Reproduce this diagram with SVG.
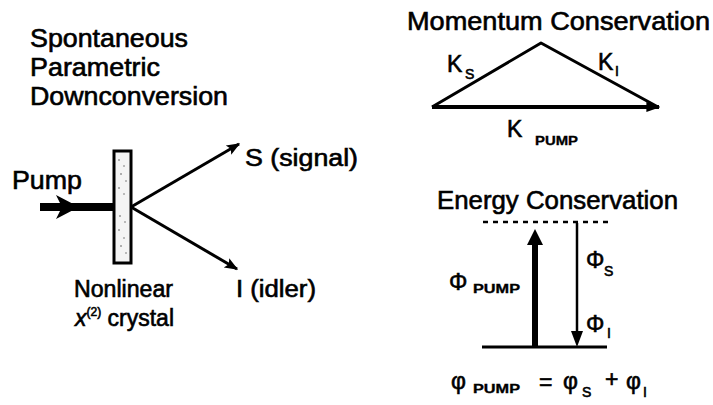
<svg xmlns="http://www.w3.org/2000/svg" width="713" height="405" viewBox="0 0 713 405">
<defs>
<style>
text{font-family:"Liberation Sans",Arial,sans-serif;fill:#000;stroke:#000;stroke-width:0.6}
.t{font-size:25px}
.m{font-size:23px}
.sub{font-size:14px}
.sc{font-size:12px;font-weight:bold;stroke-width:0.3}
.ln{stroke:#000;fill:none}
</style>
<marker id="ah" viewBox="0 0 10 10" refX="9" refY="5" markerWidth="4.5" markerHeight="4.5" orient="auto" markerUnits="strokeWidth">
<path d="M0,1 L10,5 L0,9 L2,5 Z" fill="#000"/>
</marker>
<marker id="ah2" viewBox="0 0 10 10" refX="9" refY="5" markerWidth="3.5" markerHeight="3.5" orient="auto" markerUnits="strokeWidth">
<path d="M0,1.5 L10,5 L0,8.5 Z" fill="#000"/>
</marker>
</defs>
<rect width="713" height="405" fill="#fff"/>

<g id="title">
<text class="t" x="30" y="47" textLength="158" lengthAdjust="spacingAndGlyphs">Spontaneous</text>
<text class="t" x="30" y="76" textLength="130" lengthAdjust="spacingAndGlyphs">Parametric</text>
<text class="t" x="30" y="105" textLength="198" lengthAdjust="spacingAndGlyphs">Downconversion</text>
</g>

<g id="pump">
<text class="t" x="12" y="189" textLength="70" lengthAdjust="spacingAndGlyphs">Pump</text>
<rect x="40" y="203" width="74" height="8" fill="#000"/>
<path d="M56,195 L79,207 L56,219 L62,207 Z" fill="#000"/>
</g>

<g id="crystal">
<rect x="114" y="151" width="17" height="112" fill="#f4f4f4" stroke="#000" stroke-width="3"/>
<g fill="#555">
<circle cx="119" cy="160" r="0.8"/><circle cx="124" cy="166" r="0.7"/><circle cx="121" cy="174" r="0.8"/>
<circle cx="126" cy="181" r="0.7"/><circle cx="119" cy="188" r="0.8"/><circle cx="124" cy="194" r="0.7"/>
<circle cx="120" cy="216" r="0.8"/><circle cx="125" cy="222" r="0.7"/><circle cx="119" cy="230" r="0.8"/>
<circle cx="124" cy="238" r="0.7"/><circle cx="121" cy="246" r="0.8"/><circle cx="126" cy="253" r="0.7"/>
</g>
<text class="m" x="74" y="297" textLength="99" lengthAdjust="spacingAndGlyphs">Nonlinear</text>
<text class="m" x="75" y="326"><tspan font-style="italic">x</tspan><tspan font-size="12" dy="-10">(2)</tspan><tspan dy="10"> crystal</tspan></text>
</g>

<g id="connectors">
<line class="ln" x1="131" y1="207" x2="239" y2="144" stroke-width="3" marker-end="url(#ah)"/>
<line class="ln" x1="131" y1="207" x2="237" y2="269" stroke-width="3" marker-end="url(#ah)"/>
</g>

<g id="signal">
<text class="m" x="245" y="166" textLength="113" lengthAdjust="spacingAndGlyphs">S (signal)</text>
</g>
<g id="idler">
<text class="m" x="236" y="297" textLength="80" lengthAdjust="spacingAndGlyphs">I (idler)</text>
</g>

<g id="momentum">
<text class="t" x="407" y="30" textLength="303" lengthAdjust="spacingAndGlyphs">Momentum Conservation</text>
<path class="ln" d="M432,107 L541,43 L658,107" stroke-width="3" stroke-linejoin="round"/>
<line class="ln" x1="432" y1="107" x2="659" y2="107" stroke-width="4" marker-end="url(#ah2)"/>
<text class="m" x="447" y="72">K</text><text class="sub" x="465" y="79">S</text>
<text class="m" x="598" y="70">K</text><text class="sub" x="615" y="76">I</text>
<text class="m" x="507" y="137">K</text><text class="sc" x="535" y="145" textLength="43" lengthAdjust="spacingAndGlyphs">PUMP</text>
</g>

<g id="energy">
<text class="t" x="437" y="209" textLength="241" lengthAdjust="spacingAndGlyphs">Energy Conservation</text>
<line class="ln" x1="483" y1="222" x2="611" y2="222" stroke-width="2.5" stroke-dasharray="5 5"/>
<line class="ln" x1="482" y1="347" x2="607" y2="347" stroke-width="3"/>
<line class="ln" x1="535" y1="348" x2="535" y2="242" stroke-width="6"/>
<path d="M535,229 L527,245 L543,245 Z" fill="#000"/>
<line class="ln" x1="577" y1="223" x2="577" y2="334" stroke-width="2.5"/>
<path d="M577,347 L571,331 L583,331 Z" fill="#000"/>
<text class="m" x="449" y="290">Φ</text><text class="sc" x="473" y="293" textLength="47" lengthAdjust="spacingAndGlyphs">PUMP</text>
<text class="m" x="586" y="268">Φ</text><text class="sub" x="604" y="276">S</text>
<text class="m" x="586" y="332">Φ</text><text class="sub" x="607" y="338">I</text>
</g>

<g id="equation">
<text class="m" x="451" y="389">φ</text><text class="sc" x="473" y="393" textLength="47" lengthAdjust="spacingAndGlyphs">PUMP</text>
<text class="m" x="539" y="390">=</text>
<text class="m" x="563" y="389">φ</text><text class="sub" x="582" y="397">S</text>
<text class="m" x="605" y="387">+</text>
<text class="m" x="626" y="389">φ</text><text class="sub" x="643" y="397">I</text>
</g>
</svg>
